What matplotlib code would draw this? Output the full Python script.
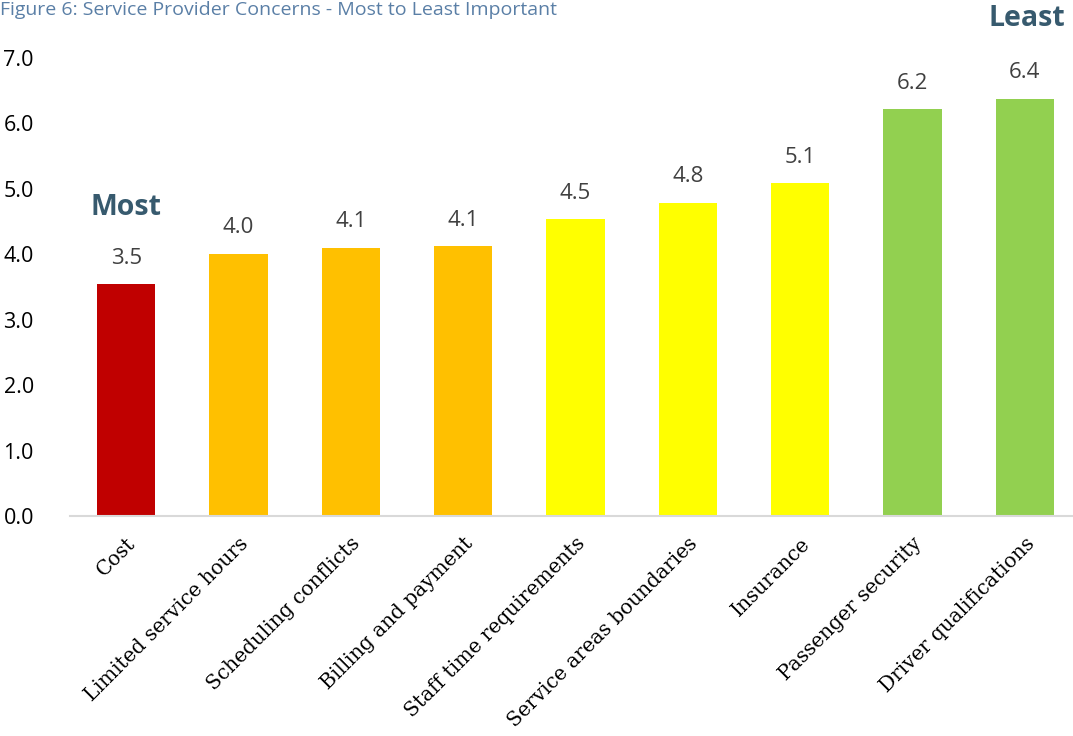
import numpy as np
import matplotlib
matplotlib.use("Agg")
from matplotlib import pyplot as plt

# concern categories, mean rank and bar colours
categories = ["Cost", "Limited service hours", "Scheduling conflicts",
              "Billing and payment", "Staff time requirements",
              "Service areas boundaries", "Insurance", "Passenger security",
              "Driver qualifications"]
ranks = [3.54, 4.01, 4.10, 4.13, 4.54, 4.79, 5.09, 6.22, 6.38]
colors = ["#C00000", "#FFC000", "#FFC000", "#FFC000", "#FFFF00",
          "#FFFF00", "#FFFF00", "#92D050", "#92D050"]
yticks = [0, 1, 2, 3, 4, 5, 6, 7]

fig = plt.figure(figsize=(10.73, 7.36), dpi=100)
ax = fig.add_axes([70 / 1073, 220 / 736, 1011 / 1073, 458 / 736])

x = np.arange(len(categories))
ax.bar(x, ranks, width=0.52, color=colors)

for xi, v in zip(x, ranks):
    ax.annotate(f"{v:.1f}", (xi, v), xytext=(0, 11), textcoords="offset points",
                ha="center", va="bottom", fontsize=16, color="#404040",
                family="Open Sans")

ax.set_xlim(-0.5, len(categories) - 0.5)
ax.set_ylim(0, 7)
ax.set_yticks(yticks)
ax.set_yticklabels([f"{t:.1f}" for t in yticks], family="Open Sans", fontsize=15.5)
ax.set_xticks(x)
ax.set_xticklabels(categories, rotation=45, ha="right", va="top",
                   rotation_mode="anchor", family="DejaVu Serif", fontsize=14.5)
ax.tick_params(axis="both", length=0)
ax.tick_params(axis="y", pad=26)
ax.tick_params(axis="x", pad=13)

for s in ["top", "right", "left"]:
    ax.spines[s].set_visible(False)
ax.spines["bottom"].set_color("#D9D9D9")
ax.spines["bottom"].set_linewidth(1.5)

ax.text(0, 4.72, "Most", ha="center", va="center", fontsize=20.5,
        fontweight="bold", color="#375A6E", family="Open Sans")
ax.text(8.02, 7.6, "Least", ha="center", va="center", fontsize=20.5,
        fontweight="bold", color="#375A6E", family="Open Sans", clip_on=False)

fig.text(0.0, 0.999, "Figure 6: Service Provider Concerns - Most to Least Important",
         ha="left", va="top", fontsize=14, color="#5A7FA6", family="Open Sans")

fig.savefig("out.png", dpi=100)
